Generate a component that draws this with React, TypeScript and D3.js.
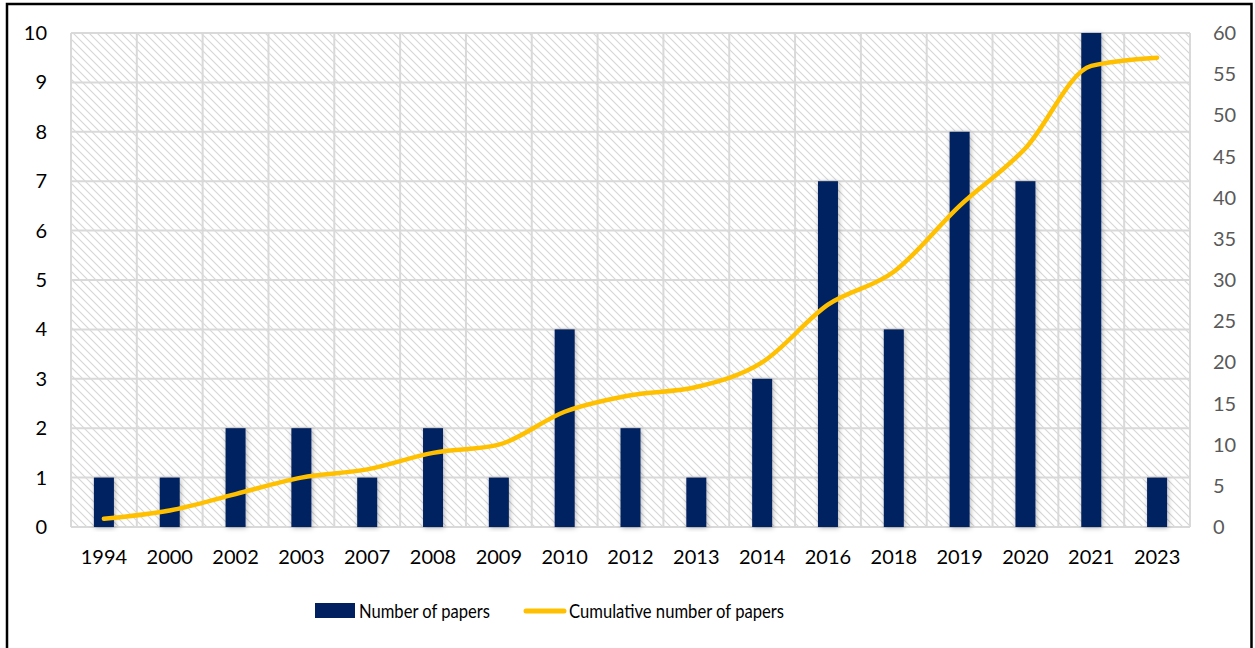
import * as d3 from 'd3';
import { useEffect, useRef } from 'react';

const years = ['1994', '2000', '2002', '2003', '2007', '2008', '2009', '2010', '2012', '2013', '2014', '2016', '2018', '2019', '2020', '2021', '2023'];
const papers = [1, 1, 2, 2, 1, 2, 1, 4, 2, 1, 3, 7, 4, 8, 7, 10, 1];
const cumulative = [1, 2, 4, 6, 7, 9, 10, 14, 16, 17, 20, 27, 31, 39, 46, 56, 57];
const leftTicks = [0, 1, 2, 3, 4, 5, 6, 7, 8, 9, 10];
const rightTicks = [0, 5, 10, 15, 20, 25, 30, 35, 40, 45, 50, 55, 60];

const W = 1255;
const H = 648;
const plot = { left: 71, right: 1190, top: 33, bottom: 527 };
const font = 'Lato, "Open Sans", sans-serif';

export default function App() {
    const svgRef = useRef<SVGSVGElement>(null);

    useEffect(() => {
        const svg = d3.select(svgRef.current);
        svg.selectAll('*').remove();

        const x = d3.scaleBand().domain(years).range([plot.left, plot.right]);
        const yL = d3.scaleLinear().domain([0, 10]).range([plot.bottom, plot.top]);
        const yR = d3.scaleLinear().domain([0, 60]).range([plot.bottom, plot.top]);

        const defs = svg.append('defs');
        const pat = defs.append('pattern')
            .attr('id', 'hatch')
            .attr('patternUnits', 'userSpaceOnUse')
            .attr('width', 8)
            .attr('height', 8);
        pat.append('rect').attr('width', 8).attr('height', 8).attr('fill', 'white');
        pat.append('path')
            .attr('d', 'M0,0 L8,8 M-4,4 L4,12 M4,-4 L12,4')
            .attr('stroke', '#d6d6d6')
            .attr('stroke-width', 1.1);

        const shadow = defs.append('filter').attr('id', 'shadow')
            .attr('x', '-50%').attr('y', '-10%').attr('width', '200%').attr('height', '120%');
        shadow.append('feDropShadow')
            .attr('dx', 1).attr('dy', 1).attr('stdDeviation', 2.5)
            .attr('flood-color', '#000').attr('flood-opacity', 0.3);

        svg.append('rect').attr('width', W).attr('height', H).attr('fill', 'white');

        // outer frame
        svg.append('rect')
            .attr('x', 7).attr('y', 4)
            .attr('width', 1244.5).attr('height', H + 10)
            .attr('fill', 'none').attr('stroke', 'black').attr('stroke-width', 2.5);

        svg.append('rect')
            .attr('x', plot.left).attr('y', plot.top)
            .attr('width', plot.right - plot.left).attr('height', plot.bottom - plot.top)
            .attr('fill', 'url(#hatch)');

        const grid = svg.append('g').attr('stroke', '#d9d9d9').attr('stroke-width', 2);
        grid.selectAll('.h').data(leftTicks).enter().append('line')
            .attr('x1', plot.left).attr('x2', plot.right)
            .attr('y1', (d) => yL(d)).attr('y2', (d) => yL(d));
        grid.selectAll('.v').data([...years.map((yr) => x(yr) || 0), plot.right]).enter().append('line')
            .attr('x1', (d) => d).attr('x2', (d) => d)
            .attr('y1', plot.top).attr('y2', plot.bottom);

        const barW = 20;
        svg.append('g').selectAll('rect').data(years).enter().append('rect')
            .attr('x', (d) => (x(d) || 0) + x.bandwidth() / 2 - barW / 2)
            .attr('y', (d, i) => yL(papers[i]))
            .attr('width', barW)
            .attr('height', (d, i) => plot.bottom - yL(papers[i]))
            .attr('fill', '#002060')
            .attr('filter', 'url(#shadow)');

        const line = d3.line<number>()
            .x((d, i) => (x(years[i]) || 0) + x.bandwidth() / 2)
            .y((d) => yR(d))
            .curve(d3.curveMonotoneX);
        svg.append('path')
            .attr('d', line(cumulative))
            .attr('fill', 'none')
            .attr('stroke', '#ffc000')
            .attr('stroke-width', 4.5)
            .attr('stroke-linecap', 'round')
            .attr('stroke-linejoin', 'round');

        svg.append('g').selectAll('text').data(leftTicks).enter().append('text')
            .attr('x', 47).attr('y', (d) => yL(d))
            .attr('dy', '0.35em')
            .attr('text-anchor', 'end')
            .style('font-family', font).style('font-size', '20px')
            .attr('fill', 'black')
            .text((d) => d);

        svg.append('g').selectAll('text').data(rightTicks).enter().append('text')
            .attr('x', 1213).attr('y', (d) => yR(d))
            .attr('dy', '0.35em')
            .style('font-family', font).style('font-size', '20px')
            .attr('fill', '#595959')
            .text((d) => d);

        svg.append('g').selectAll('text').data(years).enter().append('text')
            .attr('x', (d) => (x(d) || 0) + x.bandwidth() / 2)
            .attr('y', 557)
            .attr('dy', '0.35em')
            .attr('text-anchor', 'middle')
            .style('font-family', font).style('font-size', '20px')
            .attr('fill', 'black')
            .text((d) => d);

        // legend
        const legend = svg.append('g').style('font-family', font).style('font-size', '20px');
        legend.append('rect')
            .attr('x', 315).attr('y', 603).attr('width', 40).attr('height', 15)
            .attr('fill', '#002060');
        legend.append('text').attr('x', 359).attr('y', 611).attr('dy', '0.35em')
            .attr('textLength', 131).attr('lengthAdjust', 'spacingAndGlyphs')
            .text('Number of papers');
        legend.append('line')
            .attr('x1', 526).attr('x2', 564).attr('y1', 611).attr('y2', 611)
            .attr('stroke', '#ffc000').attr('stroke-width', 5).attr('stroke-linecap', 'round');
        legend.append('text').attr('x', 569).attr('y', 611).attr('dy', '0.35em')
            .attr('textLength', 215).attr('lengthAdjust', 'spacingAndGlyphs')
            .text('Cumulative number of papers');
    }, []);

    return (
        <div style={{ position: 'absolute', left: 0, top: 0 }}>
            <svg ref={svgRef} width={W} height={H} style={{ display: 'block' }}></svg>
        </div>
    );
}
